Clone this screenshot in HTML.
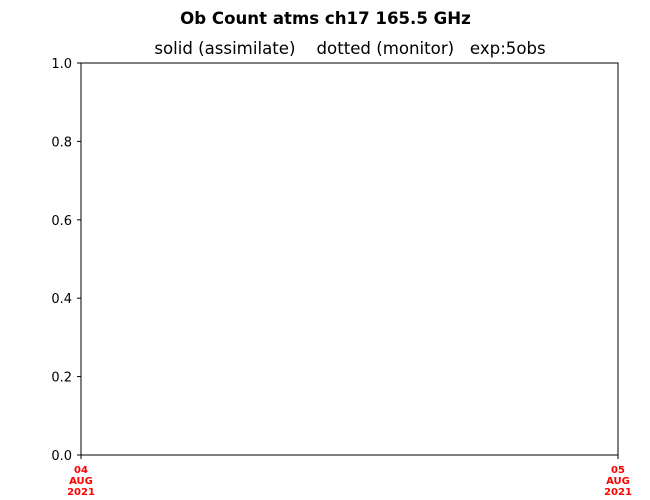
<!DOCTYPE html>
<html><head><meta charset="utf-8"><style>
html,body{margin:0;padding:0;background:#fff;}
svg{display:block;font-family:"DejaVu Sans","Liberation Sans",sans-serif;}
</style></head><body>
<svg id="chart" width="650" height="500" viewBox="0 0 650 500" xmlns="http://www.w3.org/2000/svg">
<rect width="650" height="500" fill="#fff"/>
<text x="325.5" y="24" text-anchor="middle" font-size="16.6" font-weight="bold">Ob Count atms ch17 165.5 GHz</text>
<text x="350" y="54" text-anchor="middle" font-size="16.6" xml:space="preserve">solid (assimilate)    dotted (monitor)   exp:5obs</text>
<rect x="81" y="63" width="537" height="392" fill="none" stroke="#000" stroke-width="1"/>
<g id="yaxis"></g>
<g id="xaxis"></g>
</svg>
<script>
const yTicks = [0.0, 0.2, 0.4, 0.6, 0.8, 1.0];
const xTicks = [0, 1];
const xTickLabels = [["04","AUG","2021"],["05","AUG","2021"]];
const NS = "http://www.w3.org/2000/svg";
const L = 81, R = 618, T = 63, B = 455;
const yScale = v => B - (v - 0) / (1 - 0) * (B - T);
const xScale = v => L + (v - 0) / (1 - 0) * (R - L);
const yg = document.getElementById('yaxis');
yTicks.forEach(v => {
  const y = yScale(v);
  const ln = document.createElementNS(NS, 'line');
  
  
  ln.setAttribute('x1', L - 4); ln.setAttribute('x2', L);
  ln.setAttribute('y1', y); ln.setAttribute('y2', y);
  ln.setAttribute('stroke', '#000');
  yg.appendChild(ln);
  const t = document.createElementNS(NS, 'text');
  
  
  t.setAttribute('x', L - 9); t.setAttribute('y', y + 5);
  t.setAttribute('text-anchor', 'end'); t.setAttribute('font-size', '13');
  t.textContent = v.toFixed(1);
  yg.appendChild(t);
});
const xg = document.getElementById('xaxis');
xTicks.forEach((v, i) => {
  const x = xScale(v);
  const ln = document.createElementNS(NS, 'line');
  
  
  ln.setAttribute('x1', x); ln.setAttribute('x2', x);
  ln.setAttribute('y1', B); ln.setAttribute('y2', B + 4);
  ln.setAttribute('stroke', '#000');
  xg.appendChild(ln);
  xTickLabels[i].forEach((s, j) => {
    const t = document.createElementNS(NS, 'text');
    
    
    t.setAttribute('x', x); t.setAttribute('y', B + 18 + j * 11);
    t.setAttribute('text-anchor', 'middle'); t.setAttribute('font-size', '10');
    t.setAttribute('font-weight', 'bold'); t.setAttribute('fill', '#ff0000');
    t.textContent = s;
    xg.appendChild(t);
  });
});
</script>
</body></html>
